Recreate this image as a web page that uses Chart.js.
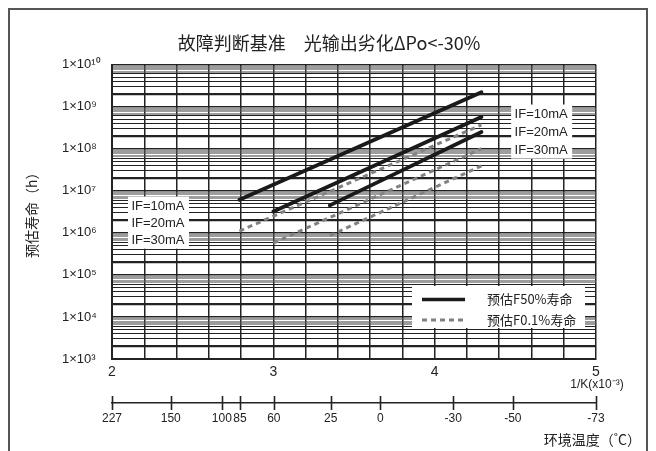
<!DOCTYPE html>
<html>
<head>
  <meta charset="utf-8">
  <title>预估寿命</title>
  <script src="https://cdn.jsdelivr.net/npm/chart.js"></script>
  <style>
    html, body { margin: 0; padding: 0; background: #fff; }
  </style>
</head>
<body>
  <canvas id="lifeChart" width="656" height="451"></canvas>

  <script>
    // lines per drive current, x is 1/K (x10^-3)
    const ifLabels = ['IF=10mA', 'IF=20mA', 'IF=30mA'];
    const xStart = [2.79, 3.00, 3.35];
    const xEnd = [4.29, 4.29, 4.29];
    // estimated life (h), F50%
    const f50Start = [6.1e6, 3.2e6, 4.5e6];
    const f50End = [2.2e9, 5.7e8, 2.5e8];
    // estimated life (h), F0.1%
    const f01Start = [1.1e6, 5.7e5, 8.6e5];
    const f01End = [3.7e8, 1.0e8, 3.9e7];

    const decades = [3, 4, 5, 6, 7, 8, 9, 10];
    const xTickLabels = [2, 3, 4, 5];
    const tempTicks = [227, 150, 100, 85, 60, 25, 0, -30, -50, -73];
    const legendLabels = ['预估F50%寿命', '预估F0.1%寿命'];

    const INK = '#222';
    const CJK = '"Noto Sans CJK SC", "Noto Sans", sans-serif';
    const LAT = '"Liberation Sans", Arial, sans-serif';
    const SUP = '⁰¹²³⁴⁵⁶⁷⁸⁹';

    const sup = n => String(n).split('').map(d => SUP[+d]).join('');
    const mant = v => Math.round(v / Math.pow(10, Math.floor(Math.log10(v) + 1e-9)) * 10) / 10;

    const datasets = [];
    ifLabels.forEach((lab, i) => {
      datasets.push({
        label: lab + ' F50%',
        data: [{ x: xStart[i], y: f50Start[i] }, { x: xEnd[i], y: f50End[i] }],
        borderColor: '#1a1a1a',
        borderWidth: 3.8,
        borderCapStyle: 'round',
        pointRadius: 0
      });
    });
    ifLabels.forEach((lab, i) => {
      datasets.push({
        label: lab + ' F0.1%',
        data: [{ x: xStart[i], y: f01Start[i] }, { x: xEnd[i], y: f01End[i] }],
        borderColor: '#828282',
        borderWidth: 3,
        borderDash: [5, 4],
        pointRadius: 0
      });
    });

    // boxes, axis extras and frame
    const decor = {
      id: 'decor',
      afterDatasetsDraw(chart) {
        const { ctx, chartArea: ca, scales: { x, y } } = chart;
        ctx.save();

        // IF labels
        const box = (cx, rows) => {
          const px = x.getPixelForValue(cx);
          const py = rows.map(v => y.getPixelForValue(v));
          ctx.fillStyle = '#fff';
          ctx.fillRect(px - 30, py[0] - 10, 61, py[2] - py[0] + 18);
          ctx.fillStyle = INK;
          ctx.font = '13px ' + LAT;
          ctx.textAlign = 'center';
          ctx.textBaseline = 'middle';
          ifLabels.forEach((t, i) => ctx.fillText(t, px, py[i]));
        };
        box(2.285, [4.2e6, 1.7e6, 6.5e5]);
        box(4.66, [6.5e8, 2.4e8, 9.0e7]);

        // legend
        const lx = ca.right - 184, rx = ca.right - 11;
        const ty = ca.bottom - 73, by = ca.bottom - 31;
        ctx.fillStyle = '#fff';
        ctx.fillRect(lx, ty, rx - lx, by - ty);
        const rowY = [ty + 13.5, ty + 34];
        ctx.lineWidth = 3.4;
        ctx.strokeStyle = '#1a1a1a';
        ctx.beginPath(); ctx.moveTo(lx + 10, rowY[0]); ctx.lineTo(lx + 53, rowY[0]); ctx.stroke();
        ctx.lineWidth = 3;
        ctx.strokeStyle = '#828282';
        ctx.setLineDash([5, 4]);
        ctx.beginPath(); ctx.moveTo(lx + 10, rowY[1]); ctx.lineTo(lx + 53, rowY[1]); ctx.stroke();
        ctx.setLineDash([]);
        ctx.fillStyle = INK;
        ctx.font = '13px ' + CJK;
        ctx.textAlign = 'left';
        ctx.textBaseline = 'middle';
        legendLabels.forEach((t, i) => ctx.fillText(t, lx + 75, rowY[i]));
        ctx.restore();
      },
      afterDraw(chart) {
        const { ctx, chartArea: ca, scales: { x, xT } } = chart;
        ctx.save();
        ctx.fillStyle = INK;

        // y title
        ctx.save();
        ctx.translate(32, (ca.top + ca.bottom) / 2);
        ctx.rotate(-Math.PI / 2);
        ctx.font = '14px ' + CJK;
        ctx.textAlign = 'center';
        ctx.textBaseline = 'middle';
        ctx.fillText('预估寿命（h）', 0, 0);
        ctx.restore();

        // unit under the 5
        ctx.font = '12px ' + LAT;
        ctx.textAlign = 'center';
        ctx.textBaseline = 'middle';
        ctx.fillText('1/K(x10⁻³)', x.getPixelForValue(5) + 1, ca.bottom + 26);

        // temperature axis ticks crossing the line
        ctx.strokeStyle = INK;
        ctx.lineWidth = 1.6;
        xT.ticks.forEach(t => {
          const px = Math.round(xT.getPixelForValue(t.value)) + 0.5;
          ctx.beginPath();
          ctx.moveTo(px, xT.top - 7);
          ctx.lineTo(px, xT.top + 7);
          ctx.stroke();
        });
        ctx.font = '14px ' + CJK;
        ctx.textAlign = 'right';
        ctx.fillText('环境温度（˚C）', 641, xT.top + 37);

        // frame
        ctx.strokeStyle = '#555';
        ctx.lineWidth = 2;
        ctx.strokeRect(9, 9, 638, 480);
        ctx.restore();
      }
    };

    new Chart(document.getElementById('lifeChart'), {
      type: 'line',
      data: { datasets },
      options: {
        responsive: false,
        animation: false,
        layout: { padding: { left: 62, right: 60, top: 0, bottom: 0 } },
        plugins: {
          legend: { display: false },
          tooltip: { enabled: false },
          title: {
            display: true,
            text: '故障判断基准　光输出劣化ΔPo<-30%',
            color: INK,
            font: { family: CJK, size: 18, weight: 'normal' },
            padding: { top: 32, bottom: 11 }
          }
        },
        scales: {
          x: {
            type: 'linear',
            position: 'bottom',
            weight: 0,
            min: 2,
            max: 5,
            afterBuildTicks: s => {
              s.ticks = Array.from({ length: 16 }, (_, k) => ({ value: Math.round((2 + k * 0.2) * 10) / 10 }));
            },
            afterFit: s => { s.height = 44; s.paddingLeft = 0; s.paddingRight = 0; },
            ticks: {
              autoSkip: false,
              maxRotation: 0,
              padding: 5,
              color: INK,
              font: { family: LAT, size: 14 },
              callback: v => xTickLabels.includes(v) ? String(v) : ''
            },
            grid: { color: INK, lineWidth: 1.5, drawTicks: false },
            border: { color: INK, width: 2 }
          },
          xT: {
            type: 'linear',
            position: 'bottom',
            weight: 1,
            min: 2,
            max: 5,
            afterBuildTicks: s => {
              s.ticks = tempTicks.map(t => ({ value: 1000 / (t + 273) }));
            },
            afterFit: s => { s.height = 48; s.paddingLeft = 0; s.paddingRight = 0; },
            ticks: {
              autoSkip: false,
              maxRotation: 0,
              padding: 8,
              color: INK,
              font: { family: LAT, size: 12 },
              callback: (v, i) => String(tempTicks[i])
            },
            grid: { display: false, drawTicks: false },
            border: { display: true, color: INK, width: 1.6 }
          },
          y: {
            type: 'logarithmic',
            min: 1e3,
            max: 1e10,
            afterBuildTicks: s => {
              const ms = [1, 2, 3, 4, 5, 6, 6.5, 7, 7.5, 8, 8.5, 9];
              const list = [];
              decades.slice(0, -1).forEach(e => ms.forEach(m => list.push({ value: m * Math.pow(10, e) })));
              list.push({ value: Math.pow(10, decades[decades.length - 1]) });
              s.ticks = list;
            },
            afterFit: s => { s.width = 50; s.paddingTop = 0; s.paddingBottom = 0; },
            ticks: {
              autoSkip: false,
              crossAlign: 'far',
              color: INK,
              font: { family: LAT, size: 13 },
              callback: v => {
                const e = Math.log10(v);
                return Math.abs(e - Math.round(e)) < 1e-9 ? '1×10' + sup(Math.round(e)) : '';
              }
            },
            grid: {
              drawTicks: false,
              color: c => {
                const m = mant(c.tick.value);
                return m <= 6 || m >= 10 ? INK : '#5a5a5a';
              },
              lineWidth: c => {
                const m = mant(c.tick.value);
                if (m === 2) return 2.2;
                if (m === 1 || m >= 10) return 1.5;
                return m <= 6 ? 1 : 0.6;
              }
            },
            border: { color: INK, width: 2 }
          }
        }
      },
      plugins: [decor]
    });
  </script>
</body>
</html>
